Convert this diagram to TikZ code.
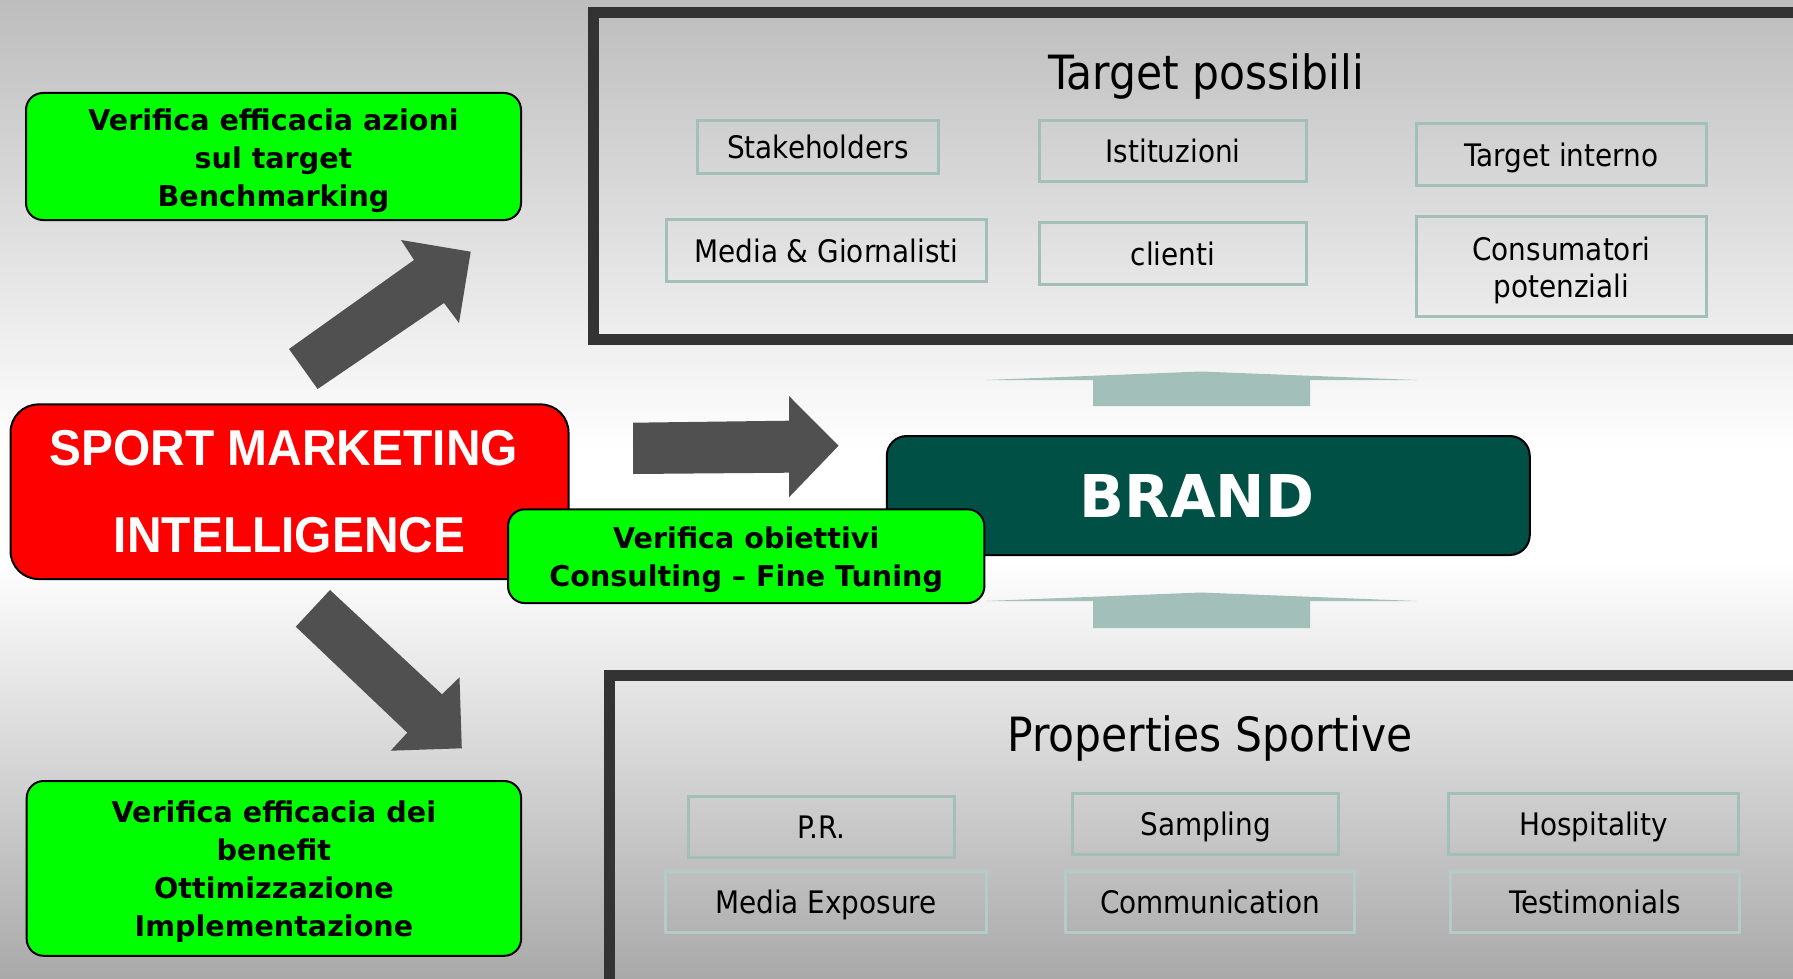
\documentclass[tikz,border=0pt]{standalone}
\usepackage{fontspec}
\setmainfont{DejaVu Sans}
\newfontfamily\condf{DejaVu Sans Condensed}
\newfontfamily\arialf[FakeStretch=0.95]{Liberation Sans}
\definecolor{bgtop}{HTML}{BDBDBD}
\definecolor{bgbot}{HTML}{A9A9A9}
\definecolor{framec}{HTML}{333333}
\definecolor{boxc}{HTML}{A3BFBA}
\definecolor{boxc2}{HTML}{B3CCC7}
\definecolor{darkarr}{HTML}{505050}
\definecolor{brandc}{HTML}{005045}
\definecolor{greenc}{HTML}{00FF00}
\definecolor{redc}{HTML}{FF0000}
\begin{document}
\begin{tikzpicture}[x=0.5pt,y=-0.5pt,
  frame/.style={draw=framec,line width=5.5pt},
  tbox/.style={draw=boxc,line width=1.5pt,inner sep=0pt,align=center,
    font=\condf\fontsize{15.5}{18.5}\selectfont},
  one/.style={text height=11.3pt,text depth=0pt},
  tbox2/.style={tbox,draw=boxc2},
  title/.style={font=\condf\fontsize{23.6}{27}\selectfont,anchor=base},
  gbox/.style={draw=black,line width=1pt,fill=greenc,rounded corners=8.5pt,inner sep=0pt},
  gtext/.style={inner sep=0pt,align=center,font=\bfseries\fontsize{14.3}{19}\selectfont},
  rbox/.style={draw=black,line width=1pt,fill=redc,rounded corners=14pt,
    inner sep=0pt,align=center,text=white,
    font=\arialf\bfseries\fontsize{25.2}{43.5}\selectfont},
  bbox/.style={draw=black,line width=1pt,fill=brandc,rounded corners=10pt,inner sep=0pt},
  btext/.style={inner sep=0pt,text=white,font=\bfseries\fontsize{29.5}{34}\selectfont},
  darrow/.style={fill=darkarr},
  larrow/.style={fill=boxc}]
\useasboundingbox (0,0) rectangle (1793,979);
\clip (0,0) rectangle (1793,979);
% background
\shade[top color=bgtop,bottom color=white] (0,0) rectangle (1793,451);
\fill[white] (0,450) rectangle (1793,561);
\shade[top color=white,bottom color=bgbot] (0,560) rectangle (1793,979);
% frames
\draw[frame] (593.5,12.5) rectangle (1830,339.5);
\draw[frame] (609.5,675.5) rectangle (1830,1000);
% titles
\node[title] (tt) at (1206.5,90) {Target possibili};
\node[title] (pt) at (1210,751.5) {Properties Sportive};
% target boxes
\node[tbox,one,minimum width=120.8pt,minimum height=26.6pt] (stake) at (817.9,146.7) {Stakeholders};
\node[tbox,one,minimum width=133.2pt,minimum height=30.8pt] (ist) at (1173,150.9) {Istituzioni};
\node[tbox,one,minimum width=144.7pt,minimum height=31pt] (tint) at (1561.3,154.7) {Target interno};
\node[tbox,one,minimum width=160.3pt,minimum height=31pt] (media) at (826.4,250.7) {Media \& Giornalisti};
\node[tbox,one,minimum width=133.2pt,minimum height=31pt] (cli) at (1173,253.7) {clienti};
\node[tbox,minimum width=144.7pt,minimum height=50pt] (cons) at (1561.3,266.7) {};
\node[inner sep=0pt,align=center,font=\condf\fontsize{15.5}{18.5}\selectfont] (const) at (1561.3,270) {Consumatori\\potenziali};
% properties boxes
\node[tbox,one,minimum width=132.9pt,minimum height=30.5pt] (pr) at (821.3,826.8) {P.R.};
\node[tbox,one,minimum width=132.9pt,minimum height=30.6pt] (samp) at (1205.7,824.3) {Sampling};
\node[tbox,one,minimum width=144.7pt,minimum height=30.6pt] (hosp) at (1593.5,824.3) {Hospitality};
\node[tbox2,one,minimum width=160.5pt,minimum height=30.6pt] (mexp) at (825.9,901.7) {Media Exposure};
\node[tbox2,one,minimum width=144.8pt,minimum height=30.6pt] (comm) at (1209.9,901.7) {Communication};
\node[tbox2,one,minimum width=144.7pt,minimum height=30.6pt] (test) at (1595,901.7) {Testimonials};
% light arrows
\fill[larrow] (986,380) -- (1201,371.5) -- (1417,380) -- (1310,380) -- (1310,406) -- (1093,406) -- (1093,380) -- cycle;
\fill[larrow] (986,601) -- (1201,592.5) -- (1417,601) -- (1310,601) -- (1310,628) -- (1093,628) -- (1093,601) -- cycle;
% dark arrows
\fill[darrow] (289,349) -- (414,260) -- (401,240) -- (470.7,251.7) -- (459,323) -- (444,303) -- (317.6,389) -- cycle;
\fill[darrow] (633,422.7) -- (789,420.7) -- (789,396) -- (838.6,445.7) -- (789,497.3) -- (789,472.7) -- (633,474) -- cycle;
\fill[darrow] (330,590) -- (442,694.3) -- (459.5,677.3) -- (461.8,748.3) -- (390.7,750.7) -- (407.3,732.7) -- (295.8,626.7) -- cycle;
% main boxes
\node[rbox,minimum width=279pt,minimum height=87.3pt] (smi) at (289.5,491.7) {SPORT MARKETING\hspace*{5.7pt}\\INTELLIGENCE};
\node[bbox,minimum width=321.5pt,minimum height=59.5pt] (brand) at (1208.25,495.5) {};
\node[btext] (brandt) at ([xshift=-5.7pt]brand.center) {BRAND};
\node[gbox,minimum width=247.5pt,minimum height=63.5pt] (g1) at (273.5,156.5) {};
\node[gtext] (g1t) at ([yshift=-2.3pt]g1.center) {Verifica efficacia azioni\\sul target\\Benchmarking};
\node[gbox,minimum width=238.2pt,minimum height=46.9pt] (gmid) at (746.2,556.2) {};
\node[gtext] (gmidt) at ([yshift=-1.7pt]gmid.center) {Verifica obiettivi\\Consulting -- Fine Tuning};
\node[gbox,minimum width=247.2pt,minimum height=87.4pt] (g3) at (273.9,868.4) {};
\node[gtext] (g3t) at ([yshift=-1.7pt]g3.center) {Verifica efficacia dei\\benefit\\Ottimizzazione\\Implementazione};
\end{tikzpicture}
\end{document}
